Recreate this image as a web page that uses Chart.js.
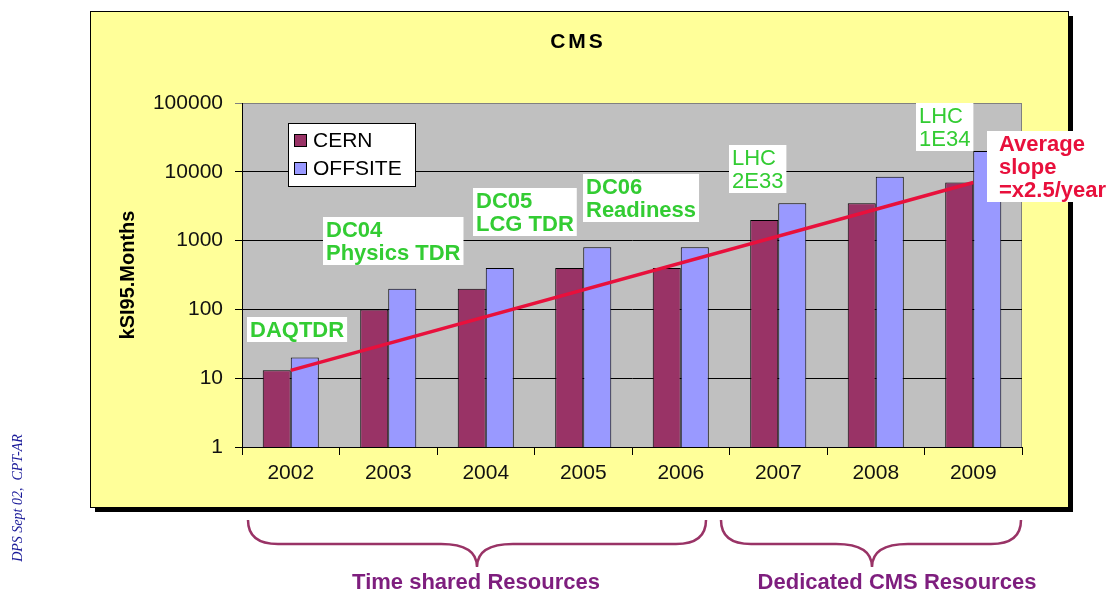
<!DOCTYPE html>
<html lang="en">
<head>
  <meta charset="UTF-8" />
  <title>CMS</title>
  <script src="https://cdn.jsdelivr.net/npm/chart.js"></script>
  <style>
    body { margin: 0; padding: 0; background: #ffffff; }
    #wrap { width: 1111px; height: 592px; }
  </style>
</head>
<body>
  <div id="wrap"><canvas id="cmsChart" width="1111" height="592"></canvas></div>

  <script>
    // data
    const years = ['2002', '2003', '2004', '2005', '2006', '2007', '2008', '2009'];
    const cernValues = [13, 100, 200, 400, 400, 2000, 3500, 7000];
    const offsiteValues = [20, 200, 400, 800, 800, 3500, 8500, 20000];
    const slopeValues = [13, null, null, null, null, null, null, 7000];
    const yTicks = [1, 10, 100, 1000, 10000, 100000];

    const milestoneTexts = [
      ['DAQTDR'],
      ['DC04', 'Physics TDR'],
      ['DC05', 'LCG TDR'],
      ['DC06', 'Readiness'],
      ['LHC', '2E33'],
      ['LHC', '1E34']
    ];
    const slopeText = ['Average', 'slope', '=x2.5/year'];
    const braceTexts = ['Time shared Resources', 'Dedicated CMS Resources'];
    const sideNote = 'DPS Sept 02,  CPT-AR';

    // where the boxes sit (left, top) and whether bold
    const milestoneBoxes = [[247, 317, true], [323, 217, true], [473, 188, true], [583, 174, true], [729, 145, false], [916, 103, false]];

    const GREEN = '#33CC33';
    const RED = '#E8103C';
    const PURPLE = '#7E1E7E';

    function textBox(ctx, lines, x, y, color, bold, padX) {
      ctx.font = (bold ? 'bold ' : '') + '22px Arial, "Liberation Sans", sans-serif';
      let w = 0;
      lines.forEach(l => { w = Math.max(w, ctx.measureText(l).width); });
      const lh = 23;
      ctx.fillStyle = '#ffffff';
      ctx.fillRect(x, y, w + padX * 2, lines.length * lh + 2);
      ctx.fillStyle = color;
      ctx.textAlign = 'left';
      ctx.textBaseline = 'middle';
      lines.forEach((l, i) => ctx.fillText(l, x + padX, y + 1 + lh / 2 + i * lh + 1));
    }

    function brace(ctx, x0, x1, xTip, yTop, yMid, yTip) {
      const r = 30, f = 36;
      ctx.beginPath();
      ctx.moveTo(x0, yTop);
      ctx.quadraticCurveTo(x0, yMid, x0 + r, yMid);
      ctx.lineTo(xTip - f, yMid);
      ctx.quadraticCurveTo(xTip, yMid, xTip, yTip);
      ctx.quadraticCurveTo(xTip, yMid, xTip + f, yMid);
      ctx.lineTo(x1 - r, yMid);
      ctx.quadraticCurveTo(x1, yMid, x1, yTop);
      ctx.stroke();
    }

    const slidePlugin = {
      id: 'slide',
      beforeDraw(chart) {
        const ctx = chart.ctx;
        const a = chart.chartArea;
        ctx.save();
        ctx.fillStyle = '#ffffff';
        ctx.fillRect(0, 0, chart.width, chart.height);
        // panel with shadow
        ctx.fillStyle = '#000000';
        ctx.fillRect(95, 16, 978, 496);
        ctx.fillStyle = '#FFFF99';
        ctx.fillRect(90, 11, 979, 497);
        ctx.strokeStyle = '#000000';
        ctx.lineWidth = 1;
        ctx.strokeRect(90.5, 11.5, 978, 496);
        // plot area
        ctx.fillStyle = '#C0C0C0';
        ctx.fillRect(a.left, a.top, a.right - a.left, a.bottom - a.top);
        ctx.strokeStyle = '#808080';
        ctx.beginPath();
        ctx.moveTo(a.left, a.top + 0.5);
        ctx.lineTo(a.right - 0.5, a.top + 0.5);
        ctx.lineTo(a.right - 0.5, a.bottom);
        ctx.stroke();
        ctx.restore();
      },
      afterDraw(chart) {
        const ctx = chart.ctx;
        ctx.save();

        // title
        ctx.fillStyle = '#000000';
        ctx.font = 'bold 21px Arial, "Liberation Sans", sans-serif';
        ctx.textAlign = 'center';
        ctx.textBaseline = 'middle';
        ctx.letterSpacing = '3px';
        ctx.fillText('CMS', 578, 42);
        ctx.letterSpacing = '0px';

        // legend
        ctx.fillStyle = '#ffffff';
        ctx.fillRect(288, 123, 127, 63);
        ctx.strokeStyle = '#000000';
        ctx.lineWidth = 1;
        ctx.strokeRect(288.5, 123.5, 127, 63);
        const legendItems = chart.data.datasets.filter(d => d.type !== 'line');
        legendItems.forEach((d, i) => {
          const cy = 140 + i * 28;
          ctx.fillStyle = d.backgroundColor;
          ctx.fillRect(294, cy - 6, 12, 12);
          ctx.strokeRect(294.5, cy - 5.5, 12, 12);
          ctx.fillStyle = '#000000';
          ctx.font = '21px Arial, "Liberation Sans", sans-serif';
          ctx.textAlign = 'left';
          ctx.textBaseline = 'middle';
          ctx.fillText(d.label, 313, cy + 1);
        });

        // milestones
        milestoneTexts.forEach((lines, i) => {
          const b = milestoneBoxes[i];
          textBox(ctx, lines, b[0], b[1], GREEN, b[2], 3);
        });
        textBox(ctx, slopeText, 987, 131, RED, true, 12);

        // braces
        ctx.strokeStyle = '#993366';
        ctx.lineWidth = 2.5;
        brace(ctx, 248, 706, 477, 520, 544, 567);
        brace(ctx, 721, 1021, 872, 520, 544, 567);
        ctx.fillStyle = PURPLE;
        ctx.font = 'bold 22px Arial, "Liberation Sans", sans-serif';
        ctx.textAlign = 'center';
        ctx.textBaseline = 'middle';
        ctx.fillText(braceTexts[0], 476, 583);
        ctx.fillText(braceTexts[1], 897, 583);

        // side note
        ctx.translate(18, 498);
        ctx.rotate(-Math.PI / 2);
        ctx.fillStyle = '#1A1A99';
        ctx.font = 'italic 14px "Liberation Serif", "DejaVu Serif", serif';
        ctx.fillText(sideNote, 0, 0);
        ctx.restore();
      }
    };

    const ctx = document.getElementById('cmsChart').getContext('2d');
    const chart = new Chart(ctx, {
      data: {
        labels: years,
        datasets: [
          {
            type: 'line',
            label: 'slope',
            data: slopeValues,
            spanGaps: true,
            borderColor: RED,
            borderWidth: 3.5,
            pointRadius: 0,
            order: 0
          },
          {
            type: 'bar',
            label: 'CERN',
            data: cernValues,
            backgroundColor: '#993366',
            borderColor: '#000000',
            borderWidth: 1,
            categoryPercentage: 0.575,
            barPercentage: 1.0,
            order: 1
          },
          {
            type: 'bar',
            label: 'OFFSITE',
            data: offsiteValues,
            backgroundColor: '#9999FF',
            borderColor: '#000000',
            borderWidth: 1,
            categoryPercentage: 0.575,
            barPercentage: 1.0,
            order: 1
          }
        ]
      },
      options: {
        responsive: false,
        animation: false,
        layout: { padding: { left: 110, top: 103, right: 89, bottom: 105 } },
        plugins: {
          legend: { display: false },
          title: { display: false },
          tooltip: { enabled: false }
        },
        scales: {
          x: {
            grid: {
              drawOnChartArea: false,
              drawTicks: true,
              tickLength: 8,
              color: '#000000'
            },
            border: { color: '#000000' },
            ticks: {
              color: '#111111',
              padding: 6,
              font: { family: 'Arial, "Liberation Sans", sans-serif', size: 21 }
            },
            afterFit(scale) { scale.height = 40; }
          },
          y: {
            type: 'logarithmic',
            min: 1,
            max: 100000,
            afterBuildTicks(scale) {
              scale.ticks = yTicks.map(v => ({ value: v }));
            },
            afterFit(scale) { scale.width = 132; },
            grid: {
              color: c => (c.tick && c.tick.value === 100000 ? '#808080' : '#000000'),
              tickLength: 7,
              lineWidth: 1
            },
            border: { color: '#000000' },
            ticks: {
              color: '#111111',
              padding: 12,
              callback: v => String(v),
              font: { family: 'Arial, "Liberation Sans", sans-serif', size: 21 }
            },
            title: {
              display: true,
              text: 'kSI95.Months',
              color: '#000000',
              padding: { top: 6, bottom: 0 },
              font: { family: 'Arial, "Liberation Sans", sans-serif', size: 20, weight: 'bold' }
            }
          }
        }
      },
      plugins: [slidePlugin]
    });
  </script>
</body>
</html>
